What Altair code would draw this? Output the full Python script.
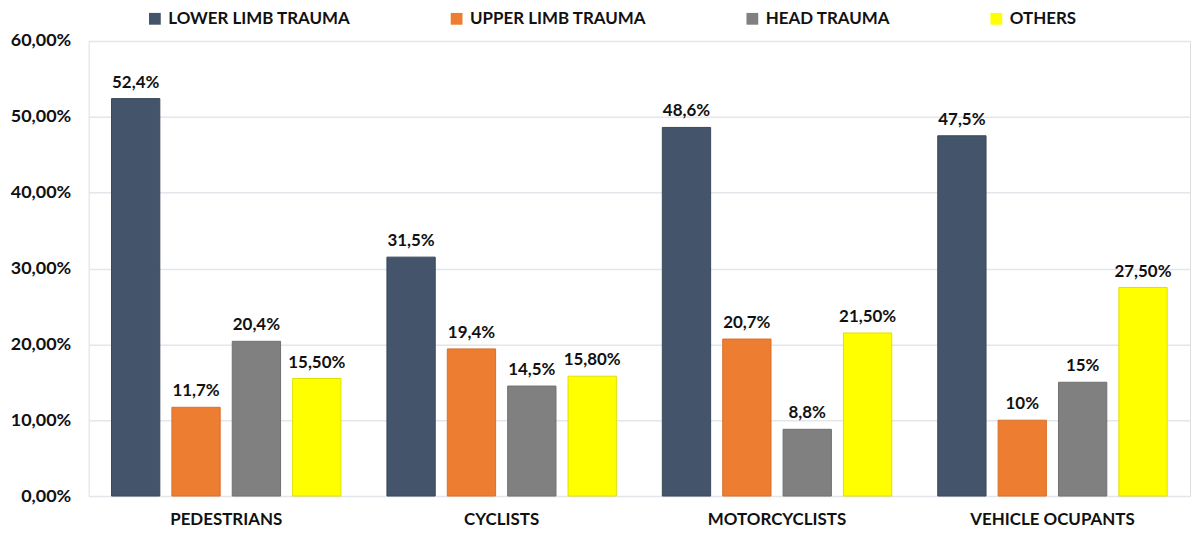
import altair as alt
import pandas as pd

groups = ["PEDESTRIANS", "CYCLISTS", "MOTORCYCLISTS", "VEHICLE OCUPANTS"]
series = ["LOWER LIMB TRAUMA", "UPPER LIMB TRAUMA", "HEAD TRAUMA", "OTHERS"]
colors = ["#44546A", "#ED7D31", "#808080", "#FFFF00"]
strokes = ["#3A4859", "#D9702A", "#707070", "#E0E000"]

lower = [52.4, 31.5, 48.6, 47.5]
upper = [11.7, 19.4, 20.7, 10.0]
head = [20.4, 14.5, 8.8, 15.0]
others = [15.5, 15.8, 21.5, 27.5]

lower_lbl = ["52,4%", "31,5%", "48,6%", "47,5%"]
upper_lbl = ["11,7%", "19,4%", "20,7%", "10%"]
head_lbl = ["20,4%", "14,5%", "8,8%", "15%"]
others_lbl = ["15,50%", "15,80%", "21,50%", "27,50%"]

rows = []
for s, vals, lbls in zip(series, [lower, upper, head, others],
                         [lower_lbl, upper_lbl, head_lbl, others_lbl]):
    for g, v, l in zip(groups, vals, lbls):
        rows.append({"group": g, "series": s, "value": v, "label": l})
df = pd.DataFrame(rows)

FONT = "Lato"

x = alt.X("group:N", sort=groups, title=None,
          scale=alt.Scale(paddingInner=0.167, paddingOuter=0.083),
          axis=alt.Axis(labelAngle=0, labelFont=FONT, labelFontSize=17,
                        labelFontWeight="bold", labelColor="#111111",
                        domain=False, ticks=False, labelPadding=16))
xo = alt.XOffset("series:N", sort=series,
                 scale=alt.Scale(paddingInner=0.2, paddingOuter=0))
y = alt.Y("value:Q", title=None,
          scale=alt.Scale(domain=[0, 60], nice=False),
          axis=alt.Axis(values=[0, 10, 20, 30, 40, 50, 60],
                        labelExpr="replace(format(datum.value, '.2f'), '.', ',') + '%'",
                        labelFont=FONT, labelFontSize=18, labelFontWeight="bold",
                        labelColor="#111111", domain=False, ticks=False,
                        gridColor="#E4E6EC", gridWidth=1.5, labelPadding=18))

color = alt.Color("series:N", sort=series, title=None,
                  scale=alt.Scale(domain=series, range=colors),
                  legend=alt.Legend(orient="none", direction="horizontal",
                                    legendX=58, legendY=-31,
                                    symbolType="square", symbolSize=140,
                                    symbolStrokeWidth=0, labelLimit=0,
                                    labelFont=FONT, labelFontSize=17,
                                    labelFontWeight="bold", labelColor="#111111",
                                    columnPadding=98, labelOffset=5))

bars = alt.Chart(df).mark_bar(strokeWidth=1).encode(
    x=x, xOffset=xo, y=y, color=color,
    stroke=alt.Stroke("series:N", sort=series,
                      scale=alt.Scale(domain=series, range=strokes), legend=None),
)

labels = alt.Chart(df).mark_text(
    font=FONT, fontSize=17, fontWeight="bold", color="#111111",
    baseline="bottom", dy=-7
).encode(x=x, xOffset=xo, y=y, text="label:N")

chart = (bars + labels).properties(
    width=1106, height=457,
    autosize=alt.AutoSizeParams(type="none"),
    padding={"left": 81, "top": 32, "right": 4, "bottom": 34},
).configure_view(stroke=None).configure(background="white")

chart.save("out.html", embed_options={"renderer": "svg", "actions": False})
